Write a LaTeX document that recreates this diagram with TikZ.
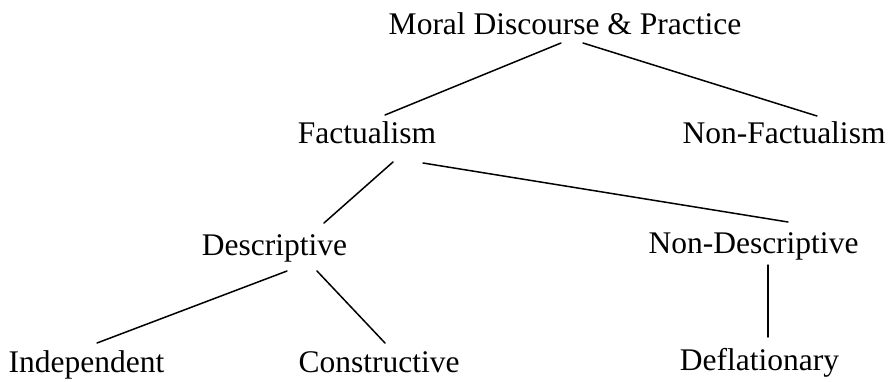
\documentclass[tikz,border=0pt]{standalone}
\usepackage{fontspec}
\setmainfont{Liberation Serif}
\usetikzlibrary{calc}
\tikzset{
  lbl/.style={anchor=base, inner sep=0pt, font=\fontsize{31.5}{36}\selectfont},
  edge/.style={line width=1.5pt, line cap=round}
}
\begin{document}
\begin{tikzpicture}[x=1pt,y=-1pt]
\useasboundingbox (0,0) rectangle (888,381);
\node[lbl] (moral) at (565,34) {Moral Discourse \& Practice};
\node[lbl] (fact) at (367,143) {Factualism};
\node[lbl] (nonfact) at (784,143) {Non-Factualism};
\node[lbl] (desc) at (274.5,255) {Descriptive};
\node[lbl] (nondesc) at (753.5,253) {Non-Descriptive};
\node[lbl] (indep) at (86.5,372) {Independent};
\node[lbl] (constr) at (379,372) {Constructive};
\node[lbl] (defl) at (759.5,370) {Deflationary};
\draw[edge] ($(moral.base)+(-4,9)$) -- ($(fact.base)+(18,-28)$);
\draw[edge] ($(moral.base)+(18,9)$) -- ($(nonfact.base)+(33,-27)$);
\draw[edge] ($(fact.base)+(26,19)$) -- ($(desc.base)+(49.5,-32)$);
\draw[edge] ($(fact.base)+(56,20)$) -- ($(nondesc.base)+(34.5,-31)$);
\draw[edge] ($(desc.base)+(12.5,16)$) -- ($(indep.base)+(10.5,-29)$);
\draw[edge] ($(desc.base)+(42.5,16)$) -- ($(constr.base)+(6,-29)$);
\draw[edge] ($(nondesc.base)+(14.5,12)$) -- ($(defl.base)+(8.5,-33)$);
\end{tikzpicture}
\end{document}
